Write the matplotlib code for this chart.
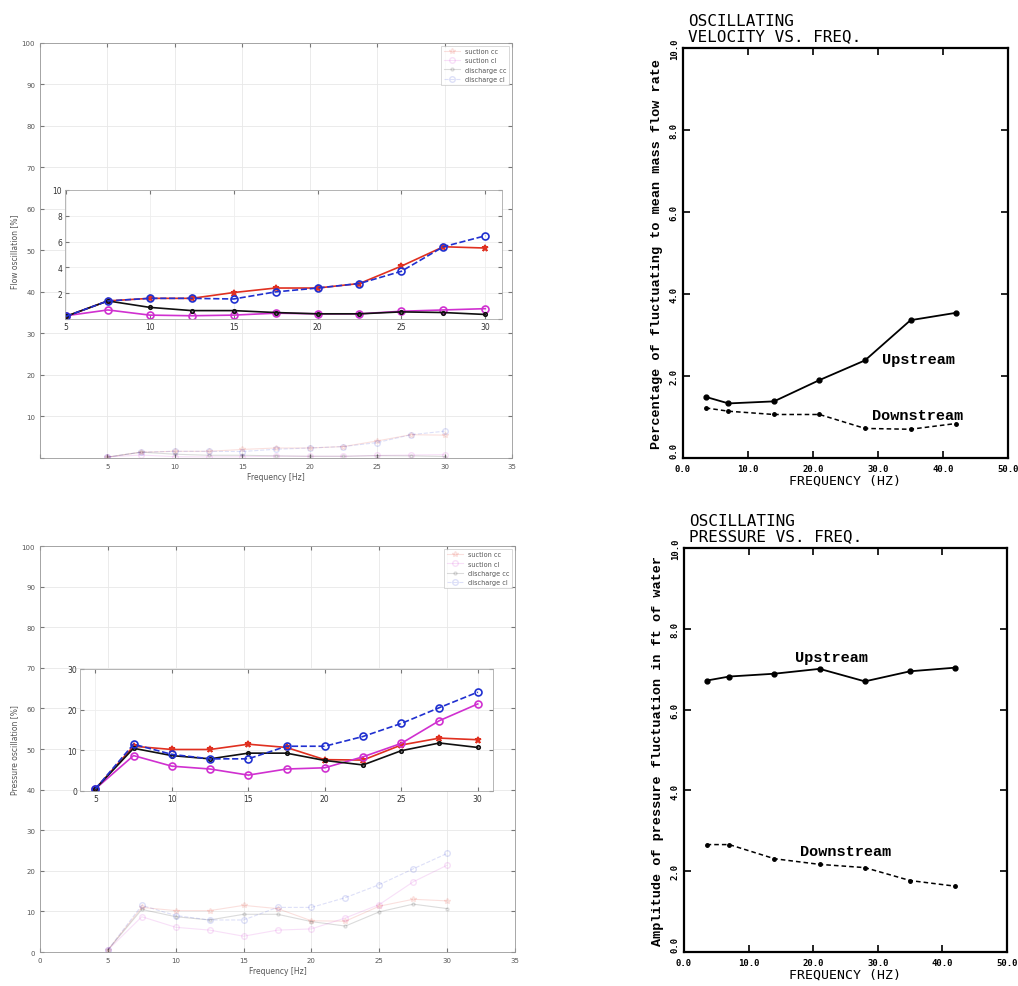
import matplotlib.pyplot as plt

# left panels: oscillation vs frequency (inset = same data zoomed)
freq = [5, 7.5, 10, 12.5, 15, 17.5, 20, 22.5, 25, 27.5, 30]
names = ['suction cc', 'suction cl', 'discharge cc', 'discharge cl']

flow_suction_cc = [0.2, 1.4, 1.6, 1.6, 2.05, 2.4, 2.4, 2.75, 4.1, 5.6, 5.5]
flow_suction_cl = [0.25, 0.7, 0.3, 0.25, 0.3, 0.45, 0.4, 0.4, 0.6, 0.7, 0.8]
flow_discharge_cc = [0.2, 1.4, 0.9, 0.65, 0.65, 0.5, 0.4, 0.4, 0.55, 0.5, 0.35]
flow_discharge_cl = [0.2, 1.4, 1.6, 1.6, 1.55, 2.1, 2.4, 2.75, 3.7, 5.6, 6.45]

press_suction_cc = [0.5, 11.0, 10.2, 10.2, 11.5, 10.7, 7.7, 7.6, 11.3, 13.0, 12.6]
press_suction_cl = [0.5, 8.7, 6.1, 5.4, 3.9, 5.4, 5.7, 8.4, 11.7, 17.3, 21.4]
press_discharge_cc = [0.5, 10.5, 8.7, 7.9, 9.3, 9.3, 7.5, 6.4, 9.9, 11.8, 10.7]
press_discharge_cl = [0.5, 11.5, 9.0, 7.9, 7.9, 11.0, 11.0, 13.4, 16.6, 20.5, 24.3]

# right panels: old report figures
hz = [3.5, 7, 14, 21, 28, 35, 42]
vel_up = [1.49, 1.33, 1.38, 1.9, 2.38, 3.36, 3.54]
vel_down = [1.22, 1.14, 1.06, 1.06, 0.72, 0.70, 0.84]
pres_up = [6.72, 6.82, 6.89, 7.01, 6.70, 6.95, 7.04]
pres_down = [2.66, 2.66, 2.31, 2.17, 2.09, 1.77, 1.63]

styles = [('#e03020', '-', '*'), ('#d030d0', '-', 'o'),
          ('#101010', '-', '.'), ('#2030d0', '--', 'o')]

fig = plt.figure(figsize=(10.18, 9.87), dpi=100)


def left_panel(rect, inset_rect, data, ylabel, inset_lims, inset_yticks, show_zero):
    ax = fig.add_axes(rect)
    for (c, ls, m), y, n in zip(styles, data, names):
        ax.plot(freq, y, color=c, ls=ls, marker=m, ms=4, mfc='none', lw=0.8,
                alpha=0.15, label=n)
    ax.set_xlim(0, 35)
    ax.set_ylim(0, 100)
    ax.set_xticks(range(0, 36, 5))
    ax.set_yticks(range(0, 101, 10))
    if not show_zero:
        ax.set_xticklabels([''] + [str(v) for v in range(5, 36, 5)])
        ax.set_yticklabels([''] + [str(v) for v in range(10, 101, 10)])
    ax.grid(True, color='#e8e8e8', lw=0.6)
    ax.tick_params(direction='in', top=True, right=True, labelsize=5,
                   labelcolor='#555555', color='#777777', length=3)
    for s in ax.spines.values():
        s.set_color('#999999')
        s.set_linewidth(0.6)
    ax.set_xlabel('Frequency [Hz]', fontsize=5.5, color='#555555', labelpad=2)
    ax.set_ylabel(ylabel, fontsize=5.5, color='#555555', labelpad=2)
    leg = ax.legend(loc='upper right', fontsize=4.7, frameon=True, fancybox=False,
                    borderaxespad=0.4, handlelength=2.5)
    leg.get_frame().set_edgecolor('#bbbbbb')
    leg.get_frame().set_linewidth(0.5)
    for t in leg.get_texts():
        t.set_color('#555555')

    ins = fig.add_axes(inset_rect)
    for (c, ls, m), y in zip(styles, data):
        ins.plot(freq, y, color=c, ls=ls, marker=m, ms=5, mfc='none', mew=1.2, lw=1.2)
    ins.set_xlim(inset_lims[0], inset_lims[1])
    ins.set_ylim(inset_lims[2], inset_lims[3])
    ins.set_xticks(range(5, 31, 5))
    ins.set_yticks(inset_yticks)
    if not show_zero:
        ins.set_yticklabels([''] + [str(v) for v in inset_yticks[1:]])
    ins.grid(True, color='#eeeeee', lw=0.6)
    ins.tick_params(direction='in', top=True, right=True, labelsize=5.5,
                    labelcolor='#333333', color='#777777', length=3, pad=2)
    for s in ins.spines.values():
        s.set_color('#aaaaaa')
        s.set_linewidth(0.6)
    return ax


left_panel([0.0393, 0.535, 0.4637, 0.4205], [0.0639, 0.6758, 0.4293, 0.1307],
           [flow_suction_cc, flow_suction_cl, flow_discharge_cc, flow_discharge_cl],
           'Flow oscillation [%]', (4.95, 31.0, 0, 10), [0, 2, 4, 6, 8, 10], False)
left_panel([0.0393, 0.0344, 0.4666, 0.4113], [0.0786, 0.1976, 0.4057, 0.1236],
           [press_suction_cc, press_suction_cl, press_discharge_cc, press_discharge_cl],
           'Pressure oscillation [%]', (4.0, 31.0, 0, 30), [0, 10, 20, 30], True)


def right_panel(rect, up, down, title, ylabel, up_xy, down_xy):
    ax = fig.add_axes(rect)
    ax.plot(hz, up, color='black', marker='o', ms=3.5, lw=1.3)
    ax.plot(hz, down, color='black', marker='o', ms=2.5, lw=1.1, ls=(0, (3, 2)))
    ax.set_xlim(0, 50)
    ax.set_ylim(0, 10)
    ax.set_xticks(range(0, 51, 10))
    ax.set_yticks(range(0, 11, 2))
    ax.set_xticklabels(['%.1f' % v for v in range(0, 51, 10)],
                       family='DejaVu Sans Mono', fontsize=6.5, fontweight='bold')
    ax.set_yticklabels(['%.1f' % v for v in range(0, 11, 2)], rotation=90,
                       va='center', family='DejaVu Sans Mono', fontsize=6.5,
                       fontweight='bold')
    # bottom y label sits above the corner, as in the original print
    ax.get_yticklabels()[0].set_va('bottom')
    ax.tick_params(direction='in', top=True, right=True, length=5, width=1.2)
    ax.tick_params(axis='x', pad=4)
    ax.tick_params(axis='y', pad=3)
    for s in ax.spines.values():
        s.set_linewidth(1.6)
    ax.set_xlabel('FREQUENCY (HZ)', family='DejaVu Sans Mono', fontsize=9.5,
                  labelpad=1)
    ax.set_ylabel(ylabel, family='Liberation Mono', fontweight='bold',
                  fontsize=9.7, labelpad=5)
    ax.text(0.015, 1.012, title, transform=ax.transAxes, family='DejaVu Sans Mono',
            fontsize=11.5, linespacing=1.0, va='bottom', ha='left')
    ax.text(up_xy[0], up_xy[1], 'Upstream', family='Liberation Mono',
            fontweight='bold', fontsize=11, ha='center', va='center')
    ax.text(down_xy[0], down_xy[1], 'Downstream', family='Liberation Mono',
            fontweight='bold', fontsize=11, ha='center', va='center')


right_panel([0.6709, 0.535, 0.3193, 0.4154], vel_up, vel_down,
            'OSCILLATING\nVELOCITY VS. FREQ.',
            'Percentage of fluctuating to mean mass flow rate',
            (36.2, 2.42), (36.1, 1.04))
right_panel([0.6719, 0.0344, 0.3173, 0.4093], pres_up, pres_down,
            'OSCILLATING\nPRESSURE VS. FREQ.',
            'Amplitude of pressure fluctuation in ft of water',
            (22.9, 7.3), (25.0, 2.51))

plt.savefig('out.png', dpi=100)
